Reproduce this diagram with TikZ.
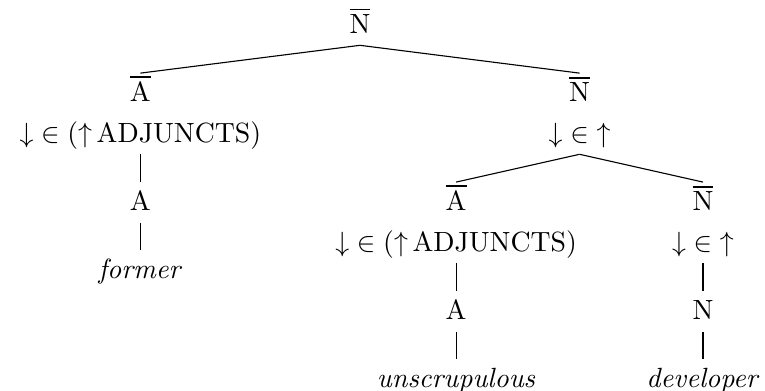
\documentclass[tikz,border=0pt]{standalone}
\usepackage{amsmath,amssymb}
\usepackage{tikz}
\usetikzlibrary{positioning}

% category with a bar over it
\newcommand{\barcat}[1]{\vbox{\hrule height 0.55pt\kern 1.3pt\hbox{#1}}}

\begin{document}
\begin{tikzpicture}[
  node distance=10pt,
  tnode/.style={inner sep=0pt, text height=10pt, text depth=4.2pt},
  branch/.style={line width=0.4pt},
]
  \useasboundingbox (-129.5pt,-128.4pt) rectangle (145.7pt,11.9pt);

  % Root
  \node[tnode, anchor=base] at (0,0) (root) {\barcat{N}};

  % Left daughter: adjunct
  \node[tnode, below=of root, xshift=-79pt] (abar) {\barcat{A}};
  \node[tnode, below=0pt of abar] (abarf) {${\downarrow}\in(\mathord{\uparrow}\,\mathrm{ADJUNCTS})$};
  \node[tnode, below=of abarf] (a) {A};
  \node[tnode, below=of a] (former) {\textit{former}};

  % Right daughter: head
  \node[tnode, below=of root, xshift=79pt] (nbar) {\barcat{N}};
  \node[tnode, below=0pt of nbar] (nbarf) {${\downarrow}\in{\uparrow}$};

  % Second level: adjunct
  \node[tnode, below=of nbarf, xshift=-44.4pt] (abartwo) {\barcat{A}};
  \node[tnode, below=0pt of abartwo] (abartwof) {${\downarrow}\in(\mathord{\uparrow}\,\mathrm{ADJUNCTS})$};
  \node[tnode, below=of abartwof] (atwo) {A};
  \node[tnode, below=of atwo] (unscr) {\textit{unscrupulous}};

  % Second level: head
  \node[tnode, below=of nbarf, xshift=44.4pt] (nbartwo) {\barcat{N}};
  \node[tnode, below=0pt of nbartwo] (nbartwof) {${\downarrow}\in{\uparrow}$};
  \node[tnode, below=of nbartwof] (n) {N};
  \node[tnode, below=of n] (dev) {\textit{developer}};

  % Branches
  \draw[branch] (root.south) -- (abar.north);
  \draw[branch] (root.south) -- (nbar.north);
  \draw[branch] (abarf.south) -- (a.north);
  \draw[branch] (a.south) -- (former.north);
  \draw[branch] (nbarf.south) -- (abartwo.north);
  \draw[branch] (nbarf.south) -- (nbartwo.north);
  \draw[branch] (abartwof.south) -- (atwo.north);
  \draw[branch] (atwo.south) -- (unscr.north);
  \draw[branch] (nbartwof.south) -- (n.north);
  \draw[branch] (n.south) -- (dev.north);
\end{tikzpicture}
\end{document}
